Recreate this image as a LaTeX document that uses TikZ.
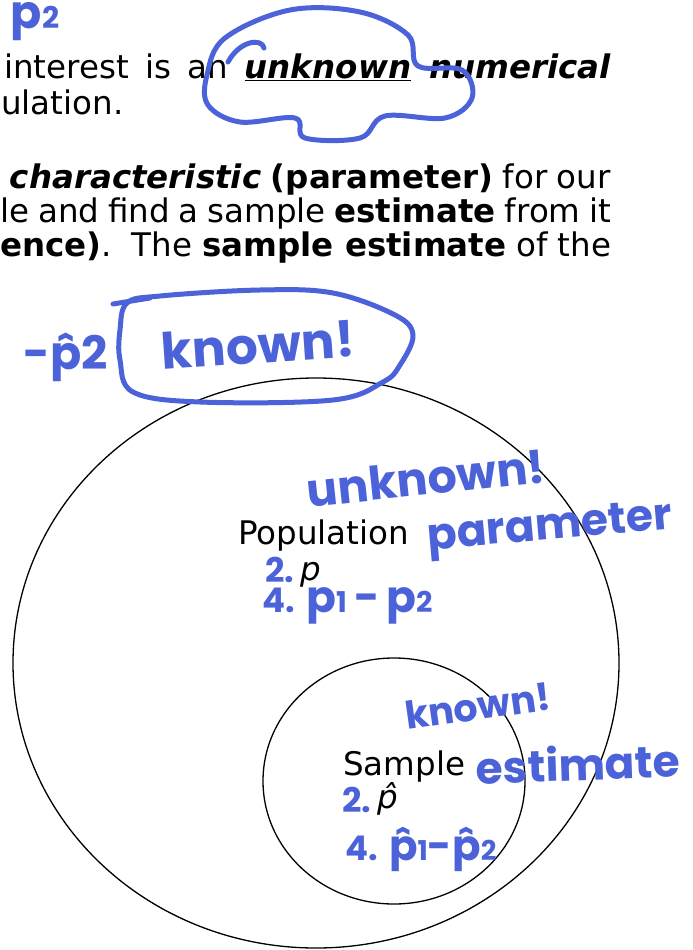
\documentclass[tikz,border=0pt]{standalone}
\usepackage{fontspec}
\usepackage{graphicx}
\setmainfont{DejaVu Sans}
\newfontfamily\handfont{Poppins}
\usetikzlibrary{shapes.geometric, positioning}
\definecolor{ink}{RGB}{76,98,216}
% hand-written hat and small index
\newcommand{\hp}{\ooalign{p\cr\hidewidth ˆ\hidewidth\cr}}
\newcommand{\sub}[1]{\scalebox{0.65}{#1}}

\begin{document}
\begin{tikzpicture}[
    x=1pt, y=-1pt,
    txt/.style={inner sep=0pt, font=\fontsize{32.5}{38}\selectfont},
    hand/.style={inner sep=0pt, text=ink, font=\handfont\bfseries\fontsize{#1}{#1}\selectfont},
    hand/.default=46,
    ring/.style={ellipse, draw, line width=1.3pt, inner sep=0pt},
    pen/.style={draw=ink, line width=5pt, line cap=round, line join=round}
]
\useasboundingbox (0,0) rectangle (693,950);
% printed lines of the page
\node[txt, anchor=base west] (line1) at (4,78) {\makebox[607pt][s]{interest is an \textbf{\textit{\underline{unknown}} \textit{numerical}}}};
\node[txt, anchor=base west] (line2) at (1,114) {ulation.};
\node[txt, anchor=base east] (line3) at (611,188) {\makebox[601pt][s]{\textbf{\textit{characteristic}} \textbf{(parameter)} for our}};
\node[txt, anchor=base west] (line4) at (0,222) {\makebox[611pt][s]{le and find a sample \textbf{estimate} from it}};
\node[txt, anchor=base west] (line5) at (0,256) {\makebox[611pt][s]{\textbf{ence)}.\ \ The \textbf{sample estimate} of the}};
% population and sample
\node[ring, minimum width=606pt, minimum height=570pt] (pop) at (316,663) {};
\node[ring, minimum width=262pt, minimum height=246pt] (smp) at (394,781) {};
\node[txt, anchor=base west] (poplbl) at (238,544) {Population};
\node[hand=34, anchor=base west] (pop2) at (265,582) {2.};
\node[txt, anchor=base west] (popp) at (300,580) {\textit{p}};
\node[hand=34, anchor=base west] (pop4) at (262,612) {4.\,\,{\fontsize{44}{44}\selectfont p\sub{1}\,-\,p\sub{2}}};
\node[txt, anchor=base west] (smplbl) at (343,775) {Sample};
\node[hand=34, anchor=base west] (smp2) at (342,812) {2.};
\node[txt, anchor=base west] (smpp) at (377,808) {\textit{\^{p}}};
\node[hand=34, anchor=base west] (smp4) at (345,860) {4.\,\,{\fontsize{42}{42}\selectfont\hp\sub{1}-\hp\sub{2}}};
% pen notes
\node[hand, rotate=6] (unk) at (426,478) {unknown!};
\node[hand=44, rotate=5] (par) at (550,530) {parameter};
\node[hand=38, rotate=8] (knw) at (478,706) {known!};
\node[hand=44, rotate=2] (est) at (578,763) {estimate};
\node[hand=50, rotate=4] (kbox) at (258,345) {known!};
\node[hand] (dp) at (66,352) {-\hp2};
\node[hand] (ptwo) at (35,22) {p\sub{2}};
% pen loops
\draw[pen] plot[smooth cycle, tension=0.6] coordinates {(207,75) (225,38) (290,10) (360,12) (408,35) (418,66) (462,70) (472,98) (445,118) (385,116) (360,138) (305,138) (295,118) (240,122) (208,105)};
\draw[pen] (228,62) .. controls (240,40) and (262,38) .. (264,48);
\draw[pen] plot[smooth cycle, tension=0.6] coordinates {(127,303) (160,296) (260,290) (333,293) (395,315) (413,335) (400,365) (383,382) (333,400) (200,402) (133,392) (120,360) (120,330)};
\draw[pen] (113,304) -- (150,298);
\end{tikzpicture}
\end{document}
